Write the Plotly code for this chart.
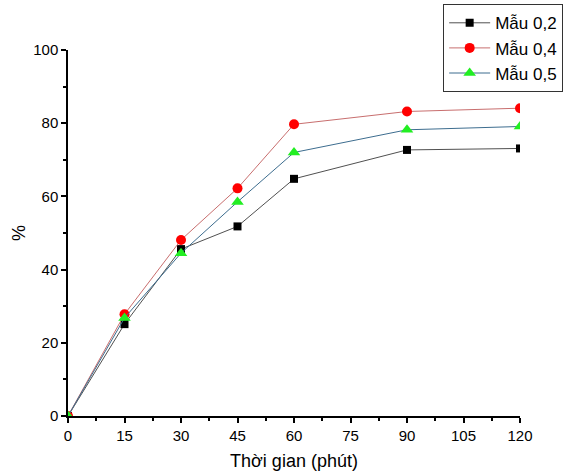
import plotly.graph_objects as go

time_min = [0, 15, 30, 45, 60, 90, 120]
mau_02 = [0, 25.1, 45.6, 51.8, 64.8, 72.7, 73.1]
mau_04 = [0, 27.8, 48.1, 62.2, 79.7, 83.2, 84.1]
mau_05 = [0, 26.8, 44.5, 58.5, 72.0, 78.2, 79.1]
series_names = ["Mẫu 0,2", "Mẫu 0,4", "Mẫu 0,5"]
x_ticks = [0, 15, 30, 45, 60, 75, 90, 105, 120]
y_ticks = [0, 20, 40, 60, 80, 100]

FONT = "Liberation Sans, Arial"

fig = go.Figure()
fig.add_trace(go.Scatter(x=time_min, y=mau_02, name=series_names[0], mode="lines+markers",
                         line=dict(color="#505050", width=1),
                         marker=dict(symbol="square", size=8, color="#000000")))
fig.add_trace(go.Scatter(x=time_min, y=mau_04, name=series_names[1], mode="lines+markers",
                         line=dict(color="#c86e6e", width=1),
                         marker=dict(symbol="circle", size=10, color="#ff0000")))
fig.add_trace(go.Scatter(x=time_min, y=mau_05, name=series_names[2], mode="lines+markers",
                         line=dict(color="#3d6d8f", width=1),
                         marker=dict(symbol="triangle-up", size=11, color="#22ee22")))

axis_common = dict(showgrid=False, zeroline=False, showline=True, linecolor="black", linewidth=1.5,
                   ticks="outside", ticklen=5, tickwidth=1.5, tickcolor="black", automargin=False,
                   tickfont=dict(family=FONT, size=15, color="black"))

fig.update_xaxes(range=[0, 120], tickvals=x_ticks,
                 minor=dict(ticks="outside", ticklen=3, dtick=7.5, tick0=0, tickcolor="black", tickwidth=1.5),
                 title=dict(text="Thời gian (phút)", font=dict(family=FONT, size=18, color="black"), standoff=12),
                 **axis_common)
fig.update_yaxes(range=[0, 100], tickvals=y_ticks,
                 minor=dict(ticks="outside", ticklen=3, dtick=10, tick0=0, tickcolor="black", tickwidth=1.5),
                 title=dict(text="%", font=dict(family=FONT, size=18, color="black"), standoff=3),
                 **axis_common)

fig.update_layout(
    width=563, height=473,
    margin=dict(l=68, r=43, t=50, b=57, autoexpand=False),
    paper_bgcolor="white", plot_bgcolor="white",
    font=dict(family=FONT, color="black"),
    legend=dict(x=0.83, y=1.125, xanchor="left", yanchor="top",
                bordercolor="#333333", borderwidth=1, bgcolor="white",
                font=dict(size=17, color="black"), tracegroupgap=0, itemwidth=41),
)

fig.write_html("out.html", config={"displayModeBar": False},
               post_script="document.body.style.margin='0px';document.body.style.overflow='hidden';")
